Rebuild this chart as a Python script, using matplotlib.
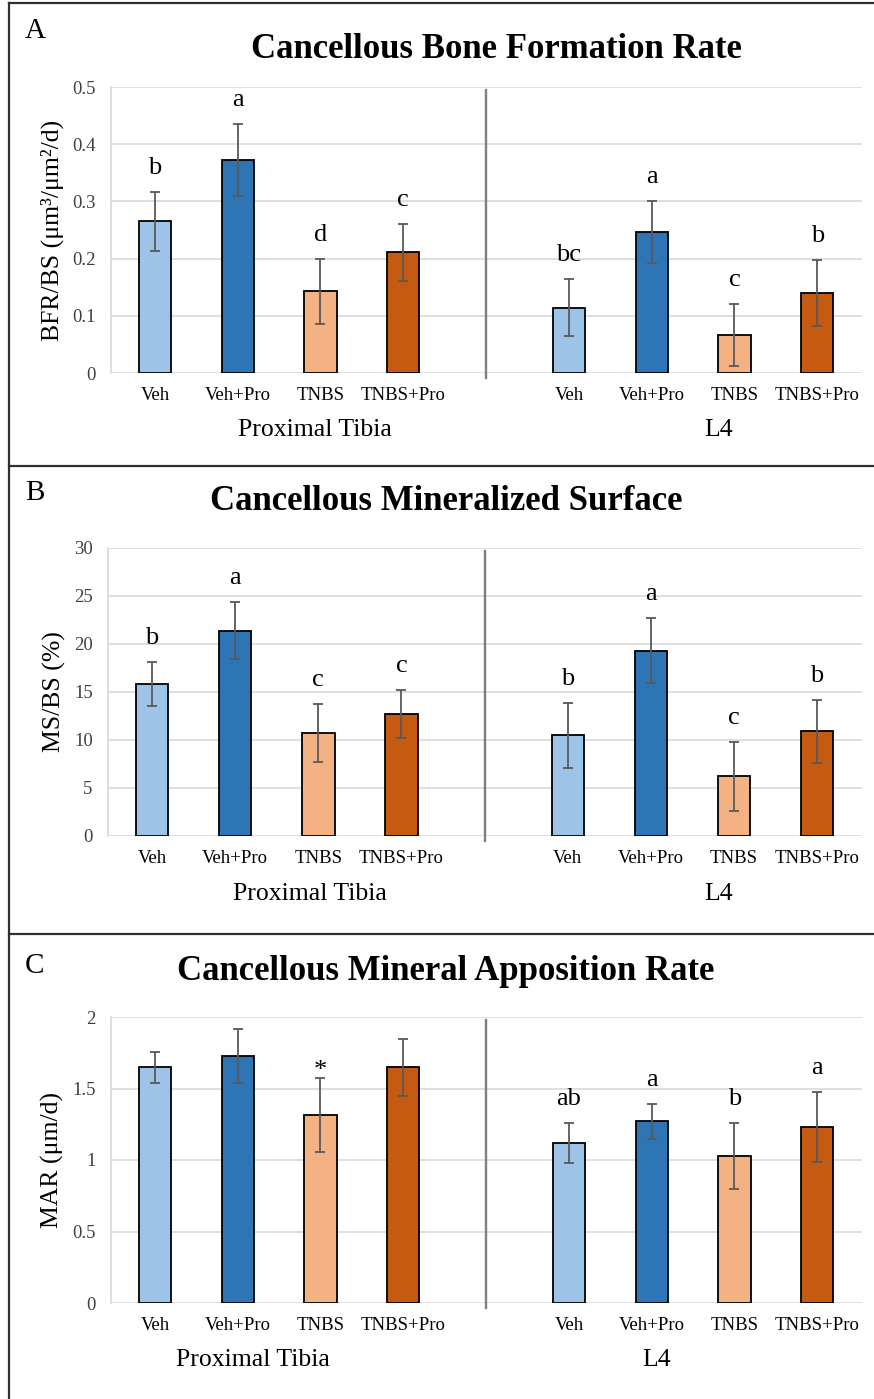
import matplotlib.pyplot as plt
import matplotlib.transforms as mtransforms
from matplotlib.lines import Line2D

W, H = 874, 1399

groups = ['Veh', 'Veh+Pro', 'TNBS', 'TNBS+Pro']
colors = ['#9DC3E6', '#2E75B6', '#F4B183', '#C55A11']

# A - bone formation rate
bfr_tibia = [0.265, 0.372, 0.143, 0.211]
bfr_tibia_err = [0.052, 0.063, 0.057, 0.050]
bfr_l4 = [0.114, 0.246, 0.066, 0.140]
bfr_l4_err = [0.050, 0.054, 0.054, 0.057]
bfr_letters = ['b', 'a', 'd', 'c', 'bc', 'a', 'c', 'b']

# B - mineralized surface
ms_tibia = [15.8, 21.4, 10.7, 12.7]
ms_tibia_err = [2.3, 3.0, 3.0, 2.5]
ms_l4 = [10.5, 19.3, 6.2, 10.9]
ms_l4_err = [3.4, 3.4, 3.6, 3.3]
ms_letters = ['b', 'a', 'c', 'c', 'b', 'a', 'c', 'b']

# C - mineral apposition rate
mar_tibia = [1.647, 1.728, 1.314, 1.647]
mar_tibia_err = [0.11, 0.19, 0.26, 0.20]
mar_l4 = [1.116, 1.270, 1.026, 1.228]
mar_l4_err = [0.14, 0.12, 0.23, 0.245]
mar_letters = ['', '', '*', '', 'ab', 'a', 'b', 'a']

plt.rcParams['font.family'] = ['Liberation Serif', 'DejaVu Serif']

fig = plt.figure(figsize=(W / 100, H / 100), dpi=100)


def px_axes(left, top, right, bottom):
    return fig.add_axes([left / W, 1 - bottom / H, (right - left) / W, (bottom - top) / H])


def panel(ax, tibia, tibia_err, l4, l4_err, letters, ymax, step, ylabel, title, title_x,
          letter, letter_y, title_y, pt_x, l4_x, fmt):
    vals = tibia + l4
    errs = tibia_err + l4_err
    xs = [0, 1, 2, 3, 5, 6, 7, 8]
    cols = colors + colors
    ax.bar(xs, vals, width=0.39, color=cols, edgecolor='black', linewidth=1.3, zorder=3)
    ax.errorbar(xs, vals, yerr=errs, fmt='none', ecolor='#595959', elinewidth=1.3,
                capsize=3.6, capthick=1.3, zorder=4)
    for x, v, e, t in zip(xs, vals, errs, letters):
        if not t:
            continue
        off = 1 if t == '*' else 13
        ax.annotate(t, (x, v + e), xytext=(0, off), textcoords='offset points',
                    ha='center', va='baseline', fontsize=19, color='black')
    ax.set_xlim(-0.53, 8.54)
    ax.set_ylim(0, ymax)
    ticks = [i * step for i in range(int(round(ymax / step)) + 1)]
    ax.set_yticks(ticks)
    ax.set_yticklabels([fmt(t) for t in ticks])
    ax.yaxis.grid(True, color='#d9d9d9', linewidth=1.2, zorder=0)
    ax.set_axisbelow(True)
    for s in ['top', 'right', 'bottom']:
        ax.spines[s].set_visible(False)
    ax.spines['left'].set_color('#d9d9d9')
    ax.spines['left'].set_linewidth(1.2)
    ax.tick_params(axis='y', length=0, pad=11, labelsize=13.5, labelcolor='#404040')
    ax.set_xticks(xs)
    ax.set_xticklabels(groups + groups)
    ax.tick_params(axis='x', length=0, pad=10, labelsize=13.5)
    ax.set_ylabel(ylabel, fontsize=18.5, labelpad=6)
    ax.plot([4, 4], [-0.017 * ymax, 0.99 * ymax], color='#7f7f7f', linewidth=1.7,
            clip_on=False, zorder=2)
    trans = mtransforms.blended_transform_factory(ax.transData, ax.transAxes)
    ax.text(pt_x, -0.2, 'Proximal Tibia', transform=trans, ha='center', va='center', fontsize=18.5)
    ax.text(l4_x, -0.2, 'L4', transform=trans, ha='center', va='center', fontsize=18.5)
    fig.text(title_x / W, 1 - title_y / H, title, ha='center', va='center',
             fontsize=25, fontweight='bold')
    fig.text(35 / W, 1 - letter_y / H, letter, ha='center', va='center', fontsize=21)


axA = px_axes(111, 87, 862, 373)
panel(axA, bfr_tibia, bfr_tibia_err, bfr_l4, bfr_l4_err, bfr_letters, 0.5, 0.1,
      'BFR/BS (μm³/μm²/d)', 'Cancellous Bone Formation Rate', 496, 'A', 31, 50,
      1.93, 6.81, lambda t: '0' if t == 0 else '%g' % round(t, 1))

axB = px_axes(108, 548, 862, 836)
panel(axB, ms_tibia, ms_tibia_err, ms_l4, ms_l4_err, ms_letters, 30, 5,
      'MS/BS (%)', 'Cancellous Mineralized Surface', 446, 'B', 493, 501,
      1.90, 6.81, lambda t: '%d' % t)

axC = px_axes(111, 1017, 862, 1303)
panel(axC, mar_tibia, mar_tibia_err, mar_l4, mar_l4_err, mar_letters, 2, 0.5,
      'MAR (μm/d)', 'Cancellous Mineral Apposition Rate', 446, 'C', 966, 971,
      1.19, 6.06, lambda t: '%g' % t)

# panel frames
border = '#303030'
for y in [3, 466, 934]:
    fig.add_artist(Line2D([9 / W, 1], [1 - y / H, 1 - y / H], color=border, linewidth=1.6,
                          transform=fig.transFigure))
fig.add_artist(Line2D([9 / W, 9 / W], [0, 1 - 3 / H], color=border, linewidth=1.6,
                      transform=fig.transFigure))

fig.savefig('out.png', dpi=100)
